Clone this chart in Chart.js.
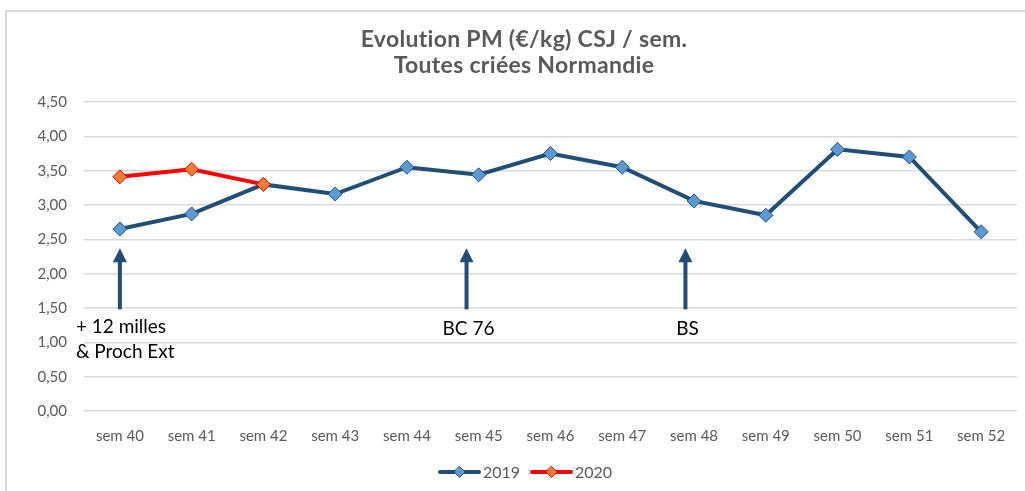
<!DOCTYPE html>
<html>
<head>
<meta charset="utf-8">
<script src="https://cdn.jsdelivr.net/npm/chart.js@4/dist/chart.umd.min.js"></script>
<style>
  html, body { margin: 0; padding: 0; background: #fff; overflow: hidden; }
  #frame { position: absolute; left: 5px; top: 10px; width: 1100px; height: 600px;
           border-left: 2px solid #d9d9d9; border-top: 2px solid #d9d9d9; }
  #wrap { position: absolute; left: 0; top: 0; width: 1025px; height: 491px; }
</style>
</head>
<body>
<div id="frame"></div>
<div id="wrap"><canvas id="chart-pm"></canvas></div>
<script>
const semaines = ['sem 40', 'sem 41', 'sem 42', 'sem 43', 'sem 44', 'sem 45', 'sem 46',
                  'sem 47', 'sem 48', 'sem 49', 'sem 50', 'sem 51', 'sem 52'];
const pm2019 = [2.65, 2.87, 3.30, 3.16, 3.55, 3.44, 3.75, 3.55, 3.06, 2.85, 3.81, 3.70, 2.61];
const pm2020 = [3.41, 3.52, 3.30];
const titre = ['Evolution PM (€/kg) CSJ / sem.', 'Toutes criées Normandie'];

// annotations: position on the week axis, arrow from/to value, text lines
const annoAt = [0, 4.83, 7.88];
const annoFrom = 1.48;
const annoTo = 2.37;
const annoText = [['+ 12 milles', '& Proch Ext'], ['BC 76'], ['BS']];

const BLEU = '#1f4e79';
const GRIS = '#595959';

const annotations = {
  id: 'annotations',
  afterDatasetsDraw(chart) {
    const ctx = chart.ctx;
    const x = chart.scales.x, y = chart.scales.y;
    ctx.save();
    annoAt.forEach((pos, i) => {
      const px = x.getPixelForValue(pos);
      const yb = y.getPixelForValue(annoFrom);
      const yt = y.getPixelForValue(annoTo);
      ctx.strokeStyle = BLEU;
      ctx.fillStyle = BLEU;
      ctx.lineWidth = 4;
      ctx.beginPath();
      ctx.moveTo(px, yb);
      ctx.lineTo(px, yt + 12);
      ctx.stroke();
      ctx.beginPath();
      ctx.moveTo(px, yt);
      ctx.lineTo(px - 7, yt + 14);
      ctx.lineTo(px + 7, yt + 14);
      ctx.closePath();
      ctx.fill();

      ctx.fillStyle = '#000';
      ctx.font = '19px Lato';
      ctx.textBaseline = 'middle';
      const lines = annoText[i];
      lines.forEach((t, k) => {
        if (lines.length > 1) {
          ctx.textAlign = 'left';
          ctx.fillText(t, px - 44, yb + 18 + k * 25);
        } else {
          ctx.textAlign = 'center';
          ctx.fillText(t, px + 2, yb + 20);
        }
      });
    });
    ctx.restore();
  },
  afterDraw(chart) {
    // title + legend
    const ctx = chart.ctx;
    ctx.save();
    ctx.fillStyle = GRIS;
    ctx.textAlign = 'center';
    ctx.textBaseline = 'middle';
    ctx.font = 'bold 23px Lato';
    ctx.letterSpacing = '0.3px';
    titre.forEach((t, k) => ctx.fillText(t, 524, 40 + k * 26));
    ctx.letterSpacing = '0px';

    const items = chart.data.datasets.map(d => d);
    let lx = 440;
    const ly = 472;
    ctx.font = '16px Lato';
    ctx.textAlign = 'left';
    items.forEach(d => {
      ctx.strokeStyle = d.borderColor;
      ctx.lineWidth = 4;
      ctx.lineCap = 'round';
      ctx.beginPath();
      ctx.moveTo(lx, ly);
      ctx.lineTo(lx + 39, ly);
      ctx.stroke();
      ctx.fillStyle = d.pointBackgroundColor;
      ctx.strokeStyle = d.pointBorderColor;
      ctx.lineWidth = 1;
      ctx.beginPath();
      ctx.moveTo(lx + 19.5, ly - 5.5);
      ctx.lineTo(lx + 25, ly);
      ctx.lineTo(lx + 19.5, ly + 5.5);
      ctx.lineTo(lx + 14, ly);
      ctx.closePath();
      ctx.fill();
      ctx.stroke();
      ctx.fillStyle = GRIS;
      ctx.fillText(d.label, lx + 43, ly + 1);
      lx += 92;
    });
    ctx.restore();
  }
};

new Chart(document.getElementById('chart-pm'), {
  type: 'line',
  data: {
    labels: semaines,
    datasets: [
      {
        label: '2019', data: pm2019, order: 1,
        borderColor: BLEU, borderWidth: 4,
        pointStyle: 'rectRot', pointRadius: 7, pointHoverRadius: 7,
        pointBackgroundColor: '#5b9bd5', pointBorderColor: BLEU, pointBorderWidth: 1
      },
      {
        label: '2020', data: pm2020, order: 0,
        borderColor: '#ff0000', borderWidth: 4,
        pointStyle: 'rectRot', pointRadius: 7, pointHoverRadius: 7,
        pointBackgroundColor: '#ed7d31', pointBorderColor: '#ff0000', pointBorderWidth: 1
      }
    ]
  },
  options: {
    responsive: true,
    maintainAspectRatio: false,
    animation: false,
    layout: { padding: { left: 0, right: 6, top: 102, bottom: 0 } },
    plugins: {
      legend: { display: false },
      title: { display: false },
      tooltip: { enabled: false }
    },
    scales: {
      x: {
        offset: true,
        grid: { display: false, drawTicks: false },
        border: { display: false },
        ticks: { color: GRIS, font: { family: 'Lato', size: 15 }, padding: 16, maxRotation: 0 },
        afterFit: s => { s.height = 80; }
      },
      y: {
        min: 0, max: 4.5,
        grid: { color: '#d9d9d9', lineWidth: 1.5, drawTicks: false },
        border: { display: false },
        ticks: {
          stepSize: 0.5, padding: 17, color: GRIS,
          font: { family: 'Lato', size: 15 },
          callback: v => v.toFixed(2).replace('.', ',')
        },
        afterFit: s => { s.width = 84; }
      }
    }
  },
  plugins: [annotations]
});
</script>
</body>
</html>
